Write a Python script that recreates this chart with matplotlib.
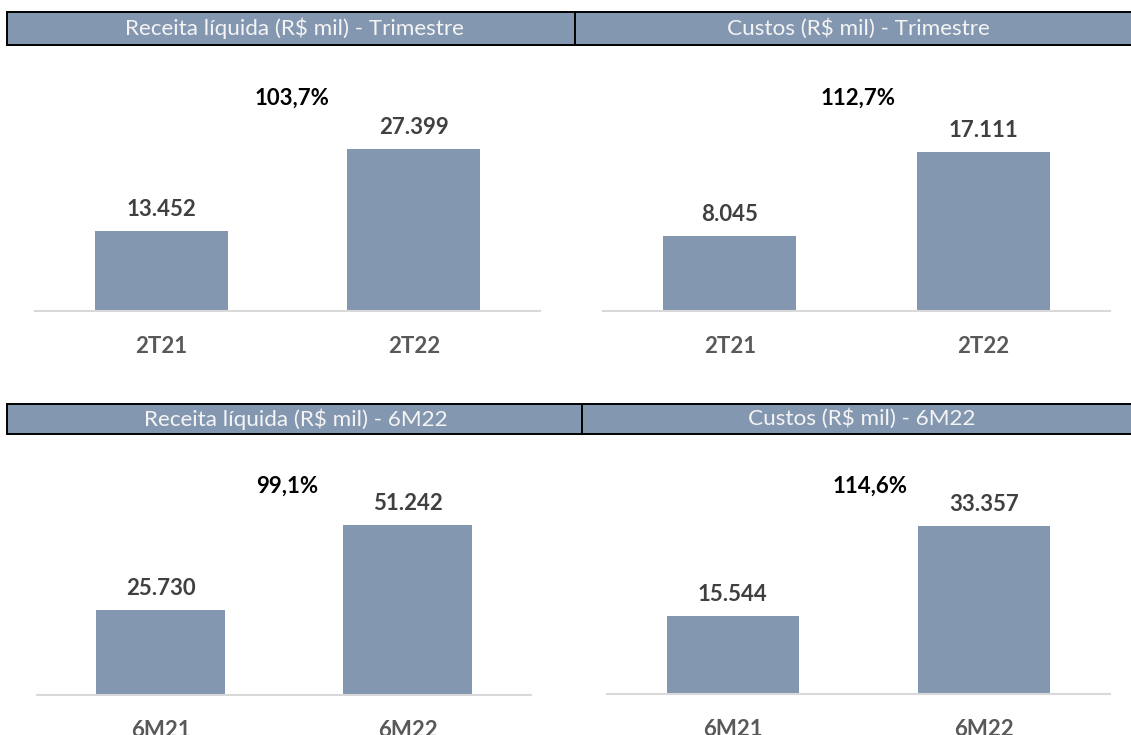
import matplotlib
matplotlib.use("Agg")
import matplotlib.pyplot as plt
from matplotlib.patches import Rectangle
from matplotlib.lines import Line2D

plt.rcParams['font.family'] = ['Lato', 'DejaVu Sans']

# ---- data ----
titles = ["Receita líquida (R$ mil) - Trimestre", "Custos (R$ mil) - Trimestre",
          "Receita líquida (R$ mil) - 6M22", "Custos (R$ mil) - 6M22"]
cats_tri = ["2T21", "2T22"]
cats_6m = ["6M21", "6M22"]
receita_tri = [13452, 27399]
custos_tri = [8045, 17111]
receita_6m = [25730, 51242]
custos_6m = [15544, 33357]
variacoes = ["103,7%", "112,7%", "99,1%", "114,6%"]

W, H = 1131, 735
BAR = "#8497B0"
FS = 16
fig = plt.figure(figsize=(W / 100, H / 100), dpi=100)

def fx(px):
    return px / W

def fy(py):
    return 1 - py / H

# ---- header bands ----
def header(y0, y1, xdiv, t_left, t_right, cx_left, cx_right):
    fig.patches.append(Rectangle((fx(7), fy(y1)), fx(W + 20 - 7), fy(y0) - fy(y1),
                                 transform=fig.transFigure, facecolor=BAR,
                                 edgecolor="black", linewidth=1.4, zorder=1))
    fig.lines.append(Line2D([fx(xdiv), fx(xdiv)], [fy(y1), fy(y0)],
                            transform=fig.transFigure, color="black", linewidth=1.4, zorder=2))
    yc = fy((y0 + y1) / 2)
    fig.text(fx(cx_left), yc, t_left, ha="center", va="center", color="#F4F4F4",
             fontsize=16.2, zorder=3)
    fig.text(fx(cx_right), yc, t_right, ha="center", va="center", color="#F4F4F4",
             fontsize=16.2, zorder=3)

header(12, 45, 575, titles[0], titles[1], 294, 858)
header(404, 434, 582, titles[2], titles[3], 296, 862)

# ---- panels ----
panels = [
    # (x0, x1, baseline, top, ymax, cats, values, pct, pct_x, pct_y)
    (35, 540, 311, 60, 42400, cats_tri, receita_tri, variacoes[0], 0.509, 0.849),
    (603, 1110, 311, 60, 27000, cats_tri, custos_tri, variacoes[1], 0.503, 0.849),
    (37, 531, 695, 445, 75500, cats_6m, receita_6m, variacoes[2], 0.506, 0.836),
    (607, 1110, 694, 445, 49500, cats_6m, custos_6m, variacoes[3], 0.523, 0.835),
]

for x0, x1, base, top, ymax, cats, vals, pct, px, py in panels:
    ax = fig.add_axes([fx(x0), fy(base), fx(x1 - x0), fy(top) - fy(base)])
    xs = list(range(len(cats)))
    bars = ax.bar(xs, vals, width=0.525, color=BAR, zorder=2)
    ax.set_xlim(-0.5, 1.5)
    ax.set_ylim(0, ymax)
    ax.bar_label(bars, labels=[f"{v:,}".replace(",", ".") for v in vals],
                 padding=8, fontsize=FS, fontweight="bold", color="#404040")
    ax.set_xticks(xs, cats)
    ax.tick_params(axis="x", length=0, pad=18, labelsize=FS, labelcolor="#595959")
    for lab in ax.get_xticklabels():
        lab.set_fontweight("bold")
    ax.set_yticks([])
    for s in ["top", "right", "left"]:
        ax.spines[s].set_visible(False)
    ax.spines["bottom"].set_color("#D9D9D9")
    ax.spines["bottom"].set_linewidth(1.5)
    ax.set_facecolor("none")
    ax.text(px, py, pct, transform=ax.transAxes, ha="center", va="center",
            fontsize=FS, fontweight="bold", color="black")

fig.savefig("out.png", dpi=100)
